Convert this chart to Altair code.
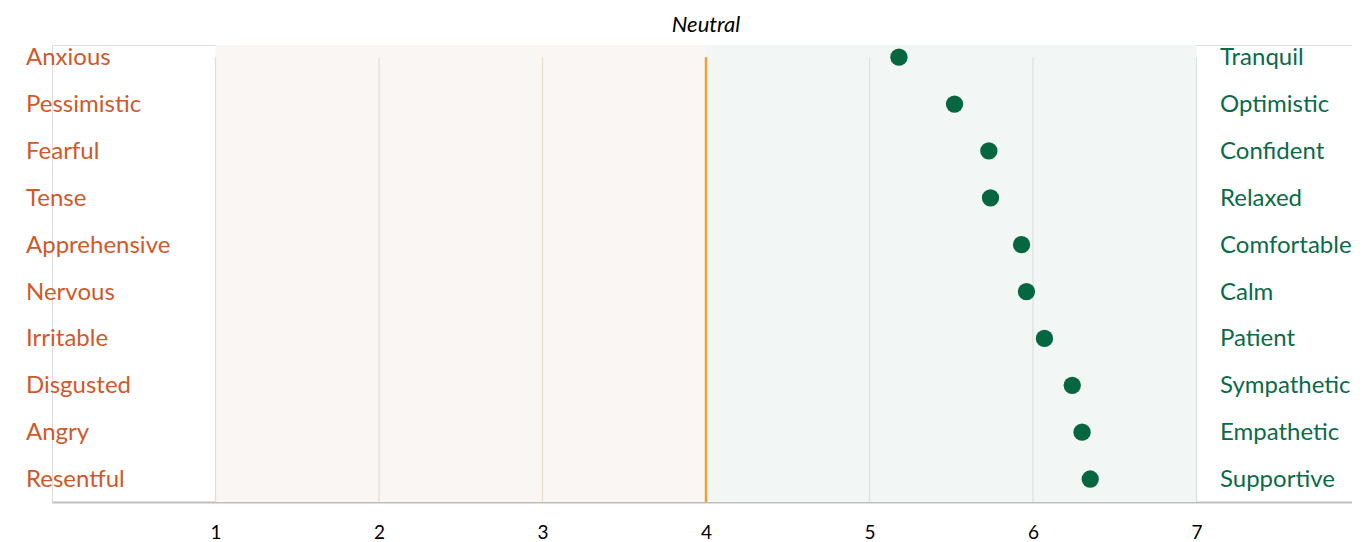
import altair as alt
import pandas as pd

negative = ["Anxious", "Pessimistic", "Fearful", "Tense", "Apprehensive",
            "Nervous", "Irritable", "Disgusted", "Angry", "Resentful"]
positive = ["Tranquil", "Optimistic", "Confident", "Relaxed", "Comfortable",
            "Calm", "Patient", "Sympathetic", "Empathetic", "Supportive"]
scores = [5.18, 5.52, 5.73, 5.74, 5.93, 5.96, 6.07, 6.24, 6.30, 6.35]
ticks = [1, 2, 3, 4, 5, 6, 7]
grid_vals = [1, 2, 3, 5, 6, 7]
grid_cols = ["#E6DCD1", "#E6DCD1", "#E6DCD1", "#DDE2DD", "#DDE2DD", "#DDE2DD"]
band_start = [1, 4]
band_end = [4, 7]
band_cols = ["#FAF6F3", "#F2F6F4"]
neutral = 4

ORANGE = "#D0592B"
GREEN = "#0B6B48"
DOT = "#05663F"
FONT = "Lato"

W, H = 1300, 457
XMAX = W / 163.5

rows = pd.DataFrame({"i": list(range(len(scores))), "neg": negative,
                     "pos": positive, "score": scores})
grid = pd.DataFrame({"v": grid_vals, "c": grid_cols})
bands = pd.DataFrame({"s": band_start, "e": band_end, "c": band_cols})
top = pd.DataFrame({"v": [neutral], "i": [0], "t": ["Neutral"]})

xs = alt.Scale(domain=[0, XMAX], nice=False, zero=False)
ys = alt.Scale(domain=[9.49, -0.26], nice=False, zero=False)

xaxis = alt.Axis(values=ticks, grid=False, ticks=False, domain=True,
                 domainColor="#BFBFBF", domainWidth=2, labelFont=FONT,
                 labelFontSize=19, labelColor="#000000", labelPadding=21,
                 title=None, format="d")

band_layer = alt.Chart(bands).mark_rect().encode(
    x=alt.X("s:Q", scale=xs, axis=xaxis),
    x2="e:Q",
    y=alt.value(0),
    y2=alt.value(H),
    color=alt.Color("c:N", scale=None),
)

grid_layer = alt.Chart(grid.assign(i=0)).mark_rule(strokeWidth=1.2).encode(
    x=alt.X("v:Q", scale=xs),
    y=alt.Y("i:Q", scale=ys, axis=None),
    y2=alt.value(H),
    color=alt.Color("c:N", scale=None),
)

neutral_rule = alt.Chart(top).mark_rule(strokeWidth=2.5, color="#F0A030").encode(
    x=alt.X("v:Q", scale=xs),
    y=alt.Y("i:Q", scale=ys, axis=None),
    y2=alt.value(H),
)

neutral_text = alt.Chart(top).mark_text(
    font=FONT, fontSize=22, fontStyle="italic", color="#000000",
    align="center", baseline="middle").encode(
    x=alt.X("v:Q", scale=xs),
    y=alt.value(-20),
    text="t:N",
)

dots = alt.Chart(rows).mark_circle(size=300, opacity=1, color=DOT).encode(
    x=alt.X("score:Q", scale=xs),
    y=alt.Y("i:Q", scale=ys, axis=None),
)

left_text = alt.Chart(rows).mark_text(
    font=FONT, fontSize=24, color=ORANGE, align="left", baseline="middle",
    dy=1).encode(
    x=alt.value(-26),
    y=alt.Y("i:Q", scale=ys, axis=None),
    text="neg:N",
)

right_text = alt.Chart(rows).mark_text(
    font=FONT, fontSize=24, color=GREEN, align="left", baseline="middle",
    dy=1).encode(
    x=alt.value(1168),
    y=alt.Y("i:Q", scale=ys, axis=None),
    text="pos:N",
)

chart = alt.layer(band_layer, grid_layer, neutral_rule, dots, left_text,
                  right_text, neutral_text).properties(
    width=W, height=H,
    autosize=alt.AutoSizeParams(type="none"),
    padding={"left": 44, "top": 37, "right": 0, "bottom": 48},
).configure_view(stroke=None).configure(background="#FFFFFF")

chart.save("out.html", embed_options={"renderer": "svg", "actions": False})
